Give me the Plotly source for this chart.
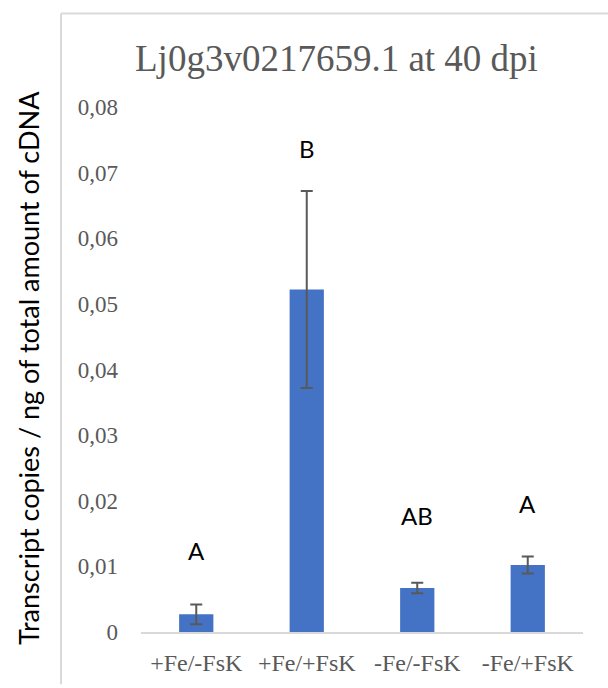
import plotly.graph_objects as go

categories = ["+Fe/-FsK", "+Fe/+FsK", "-Fe/-FsK", "-Fe/+FsK"]
values = [0.0027, 0.0522, 0.0067, 0.0102]
errors = [0.0015, 0.0150, 0.0008, 0.0013]
letters = ["A", "B", "AB", "A"]
letter_y = [0.0124, 0.0737, 0.0177, 0.0196]
title_text = "Lj0g3v0217659.1 at 40 dpi"
y_title = "Transcript copies / ng of total amount of cDNA"
y_ticks = [0, 0.01, 0.02, 0.03, 0.04, 0.05, 0.06, 0.07, 0.08]
y_ticktext = ["0", "0,01", "0,02", "0,03", "0,04", "0,05", "0,06", "0,07", "0,08"]

W, H = 608, 688
ml, mr, mt, mb = 141, 25, 107, 48

fig = go.Figure()
fig.add_trace(go.Bar(
    x=categories, y=values,
    marker=dict(color="#4472C4", line=dict(width=0)),
    error_y=dict(type="data", array=errors, visible=True,
                 color="#595959", thickness=2, width=6),
    width=0.31,
))

for c, l, ly in zip(categories, letters, letter_y):
    fig.add_annotation(x=c, y=ly, text=l, showarrow=False,
                       xanchor="center", yanchor="middle",
                       font=dict(family="Lato", size=24, color="#000000"))

pw = W - ml - mr
ph = H - mt - mb
def px_x(p):
    return (p - ml) / pw
def px_y(p):
    return 1 - (p - mt) / ph

# chart area border (left and top edges visible)
fig.add_shape(type="line", xref="paper", yref="paper",
              x0=px_x(61), x1=px_x(W + 5), y0=px_y(12), y1=px_y(12),
              line=dict(color="#d9d9d9", width=2))
fig.add_shape(type="line", xref="paper", yref="paper",
              x0=px_x(61), x1=px_x(61), y0=px_y(12), y1=px_y(H + 5),
              line=dict(color="#d9d9d9", width=2))

fig.add_annotation(xref="paper", yref="paper", x=px_x(336), y=px_y(58),
                   xanchor="center", yanchor="middle",
                   text=title_text, showarrow=False,
                   font=dict(family="Liberation Serif", size=37, color="#595959"))

fig.add_annotation(xref="paper", yref="paper", x=px_x(28), y=px_y(372),
                   xanchor="center", yanchor="middle",
                   text=y_title, showarrow=False, textangle=-90,
                   font=dict(family="Lato", size=27, color="#000000"))

fig.update_layout(
    width=W, height=H,
    margin=dict(l=ml, r=mr, t=mt, b=mb, pad=0),
    paper_bgcolor="white", plot_bgcolor="white",
    showlegend=False,
    bargap=0.69,
    xaxis=dict(showgrid=False, showline=True, linecolor="#d9d9d9", linewidth=2,
               ticks="", tickfont=dict(family="Liberation Serif", size=24, color="#595959"),
               ticklabelstandoff=8),
    yaxis=dict(range=[0, 0.08], showgrid=False, showline=False, zeroline=False,
               tickvals=y_ticks, ticktext=y_ticktext, ticks="",
               tickfont=dict(family="Liberation Serif", size=23, color="#595959"),
               ticklabelstandoff=22),
)

fig.write_html("out.html")
